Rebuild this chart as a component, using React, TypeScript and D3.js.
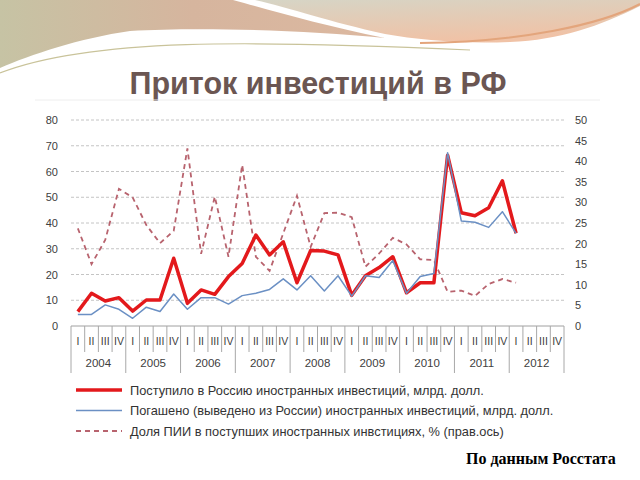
import { useEffect, useRef } from "react";
import * as d3 from "d3";

// Quarterly data, 2004 I .. 2012 I
const years = ["2004", "2005", "2006", "2007", "2008", "2009", "2010", "2011", "2012"];
const quarters = ["I", "II", "III", "IV"];

const inflow = [
  5.6, 12.7, 9.7, 11.0, 5.8, 10.1, 10.1, 26.3, 8.8, 14.0, 12.3, 19.2, 24.3, 35.3, 27.6, 32.7,
  16.8, 29.3, 29.1, 27.6, 11.9, 19.5, 22.7, 26.9, 12.9, 16.8, 16.8, 66.3, 44.0, 42.8, 45.9,
  56.4, 36.0,
];
const repaid = [
  4.5, 4.5, 8.2, 6.5, 3.0, 7.3, 5.6, 12.4, 6.5, 11.0, 11.0, 8.5, 11.8, 12.7, 14.2, 18.3,
  14.0, 19.5, 13.6, 19.5, 11.6, 19.5, 18.8, 25.4, 12.7, 19.2, 20.4, 67.3, 40.8, 40.3, 38.3,
  44.4, 36.0,
];
const fdiShare = [
  23.7, 15.0, 20.9, 33.3, 31.2, 24.5, 20.1, 23.1, 43.1, 17.5, 31.4, 16.8, 39.1, 16.8, 13.4,
  22.5, 31.6, 19.2, 27.4, 27.5, 26.4, 14.4, 17.6, 21.4, 19.8, 16.2, 16.0, 8.3, 8.6, 7.3, 10.2,
  11.4, 10.5,
];
const leftTicks = [0, 10, 20, 30, 40, 50, 60, 70, 80];
const rightTicks = [0, 5, 10, 15, 20, 25, 30, 35, 40, 45, 50];

const legendItems = [
  { label: "Поступило в Россию иностранных инвестиций, млрд. долл.", color: "#e3191c", width: 3.5, dash: "none" },
  { label: "Погашено (выведено из России) иностранных инвестиций, млрд. долл.", color: "#6b90c4", width: 1.5, dash: "none" },
  { label: "Доля ПИИ в поступших иностранных инвстициях, % (прав.ось)", color: "#b8636e", width: 1.8, dash: "5,4" },
];

const FONT = "'Liberation Sans', Arial, sans-serif";

export default function App() {
  const svgRef = useRef<SVGSVGElement>(null);

  useEffect(() => {
    if (!svgRef.current) return;
    const svg = d3.select(svgRef.current);
    svg.selectAll("*").remove();

    // background decoration
    const defs = svg.append("defs");
    const g1 = defs.append("linearGradient").attr("id", "gLeft").attr("x1", "0").attr("x2", "1");
    g1.append("stop").attr("offset", "0").attr("stop-color", "#c6c3a4");
    g1.append("stop").attr("offset", "0.5").attr("stop-color", "#d6b59e");
    g1.append("stop").attr("offset", "1").attr("stop-color", "#dcb8a0");
    const g2 = defs.append("linearGradient").attr("id", "gRight").attr("x1", "0").attr("y1", "0").attr("x2", "0.4").attr("y2", "1");
    g2.append("stop").attr("offset", "0").attr("stop-color", "#d6d5c6");
    g2.append("stop").attr("offset", "1").attr("stop-color", "#f0c2a6");

    svg.append("rect").attr("width", 640).attr("height", 480).attr("fill", "#ffffff");
    svg.append("path")
      .attr("d", "M0,0 H233 C270,10 320,25 385,38 C300,30 200,27 130,31 C80,38 30,55 0,68 Z")
      .attr("fill", "url(#gLeft)");
    svg.append("path")
      .attr("d", "M255,0 H640 V6 C600,26 560,40 510,42 C460,44 420,40 385,34 C330,22 290,8 255,0 Z")
      .attr("fill", "url(#gRight)");
    svg.append("path")
      .attr("d", "M0,73 C90,38 250,40 470,50")
      .attr("fill", "none").attr("stroke", "#c9c39a").attr("stroke-width", 1.2);
    svg.append("path")
      .attr("d", "M420,43 C520,42 600,25 640,4")
      .attr("fill", "none").attr("stroke", "#e3a57c").attr("stroke-width", 2);

    // title
    svg.append("text")
      .attr("x", 318).attr("y", 94)
      .attr("text-anchor", "middle")
      .attr("font-family", FONT).attr("font-weight", "bold").attr("font-size", 30.5)
      .attr("fill", "#6b5652")
      .text("Приток инвестиций в РФ");
    svg.append("line")
      .attr("x1", 35).attr("x2", 600).attr("y1", 100).attr("y2", 100)
      .attr("stroke", "#eeeeee");

    // scales
    const n = years.length * 4;
    const x = d3.scaleBand<number>().domain(d3.range(n)).range([71, 564]).padding(0);
    const bw = x.bandwidth();
    const cx = (i: number) => (x(i) ?? 0) + bw / 2;
    const yL = d3.scaleLinear().domain([0, 80]).range([326, 120]);
    const yR = d3.scaleLinear().domain([0, 50]).range([326, 120]);

    // grid
    leftTicks.filter((t) => t > 0).forEach((t) => {
      svg.append("line")
        .attr("x1", 71).attr("x2", 564).attr("y1", yL(t)).attr("y2", yL(t))
        .attr("stroke", "#c4c4c4").attr("stroke-width", 1).attr("stroke-dasharray", "3,2");
    });

    // left axis labels
    leftTicks.forEach((t) => {
      svg.append("text")
        .attr("x", 58).attr("y", yL(t) + 4)
        .attr("text-anchor", "end")
        .attr("font-family", FONT).attr("font-size", 11).attr("fill", "#404040")
        .text(t);
    });
    // right axis labels
    rightTicks.forEach((t) => {
      svg.append("text")
        .attr("x", 575).attr("y", yR(t) + 4)
        .attr("text-anchor", "start")
        .attr("font-family", FONT).attr("font-size", 11).attr("fill", "#404040")
        .text(t);
    });

    // category axis
    svg.append("line")
      .attr("x1", 71).attr("x2", 564).attr("y1", 326).attr("y2", 326)
      .attr("stroke", "#a0a0a0");
    for (let i = 0; i <= n; i++) {
      const xx = i < n ? x(i) ?? 0 : 564;
      svg.append("line")
        .attr("x1", xx).attr("x2", xx).attr("y1", 326).attr("y2", i % 4 === 0 ? 373 : 352)
        .attr("stroke", "#a8a8a8");
    }
    for (let i = 0; i < n; i++) {
      svg.append("text")
        .attr("x", cx(i)).attr("y", 345)
        .attr("text-anchor", "middle")
        .attr("font-family", FONT).attr("font-size", 10.5).attr("fill", "#404040")
        .text(quarters[i % 4]);
    }
    years.forEach((yr, k) => {
      const x0 = x(k * 4) ?? 0;
      svg.append("text")
        .attr("x", x0 + bw * 2).attr("y", 367)
        .attr("text-anchor", "middle")
        .attr("font-family", FONT).attr("font-size", 11.5).attr("fill", "#404040")
        .text(yr);
    });

    // lines
    const lineL = d3.line<number>().x((_, i) => cx(i)).y((d) => yL(d));
    const lineR = d3.line<number>().x((_, i) => cx(i)).y((d) => yR(d));

    svg.append("path").attr("d", lineR(fdiShare) ?? "")
      .attr("fill", "none").attr("stroke", legendItems[2].color)
      .attr("stroke-width", legendItems[2].width).attr("stroke-dasharray", legendItems[2].dash);
    svg.append("path").attr("d", lineL(inflow) ?? "")
      .attr("fill", "none").attr("stroke", legendItems[0].color)
      .attr("stroke-width", legendItems[0].width).attr("stroke-linejoin", "round");
    svg.append("path").attr("d", lineL(repaid) ?? "")
      .attr("fill", "none").attr("stroke", legendItems[1].color)
      .attr("stroke-width", legendItems[1].width).attr("stroke-linejoin", "round");

    // legend
    legendItems.forEach((item, i) => {
      const ly = 390 + i * 20.5;
      svg.append("line")
        .attr("x1", 76).attr("x2", 122).attr("y1", ly).attr("y2", ly)
        .attr("stroke", item.color).attr("stroke-width", item.width)
        .attr("stroke-dasharray", item.dash);
      svg.append("text")
        .attr("x", 130).attr("y", ly + 4.5)
        .attr("font-family", FONT).attr("font-size", 12.8).attr("fill", "#333333")
        .text(item.label);
    });

    // source
    svg.append("text")
      .attr("x", 466).attr("y", 464)
      .attr("text-anchor", "start")
      .attr("font-family", "'Liberation Serif', 'Times New Roman', serif")
      .attr("font-weight", "bold").attr("font-size", 16).attr("fill", "#000")
      .text("По данным Росстата");
  }, []);

  return (
    <svg
      ref={svgRef}
      width={640}
      height={480}
      viewBox="0 0 640 480"
      style={{ position: "absolute", left: 0, top: 0 }}
    ></svg>
  );
}
